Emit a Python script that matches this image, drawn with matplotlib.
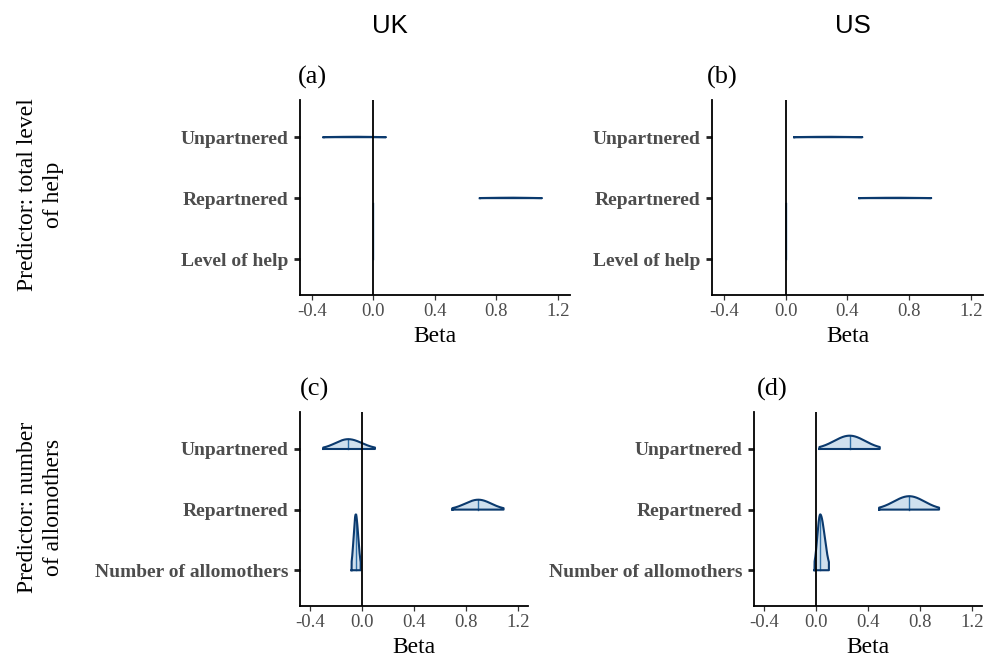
import numpy as np
import matplotlib
matplotlib.use("Agg")
import matplotlib.pyplot as plt

# ---------------- data ----------------
params_help = ["Unpartnered", "Repartnered", "Level of help"]
params_allo = ["Unpartnered", "Repartnered", "Number of allomothers"]

# 95% interval bounds and medians of the posterior for each panel
a_lo  = [-0.324, 0.692, -0.0030]
a_med = [-0.120, 0.894, -0.0015]
a_hi  = [0.082, 1.096, 0.0000]

b_lo  = [0.054, 0.477, -0.0020]
b_med = [0.270, 0.710, -0.0005]
b_hi  = [0.497, 0.944, 0.0010]

c_lo  = [-0.298, 0.696, -0.080]
c_med = [-0.106, 0.896, -0.048]
c_hi  = [0.100, 1.090, -0.010]

d_lo  = [0.025, 0.485, -0.013]
d_med = [0.258, 0.717, 0.031]
d_hi  = [0.490, 0.947, 0.098]

xticks = [-0.4, 0.0, 0.4, 0.8, 1.2]
xticklabels = ["-0.4", "0.0", "0.4", "0.8", "1.2"]
col_titles = ["UK", "US"]
row_titles = ["Predictor: total level\nof help", "Predictor: number\nof allomothers"]
panel_tags = ["(a)", "(b)", "(c)", "(d)"]

# ---------------- style ----------------
SERIF = ["Liberation Serif", "DejaVu Serif"]
SANS = ["Liberation Sans", "DejaVu Sans"]
OUTLINE = "#0b3a6e"
FILL = "#cfe0ee"
MEDIAN = "#2f6fa6"

W, H = 991, 659
fig = plt.figure(figsize=(W / 100, H / 100), dpi=100)


def rect(x0, y0, x1, y1):
    return [x0 / W, 1 - y1 / H, (x1 - x0) / W, (y1 - y0) / H]


panels = [
    (rect(300, 100, 570, 295), params_help, a_lo, a_med, a_hi),
    (rect(712.3, 100, 982.7, 295), params_help, b_lo, b_med, b_hi),
    (rect(300, 412, 528, 606), params_allo, c_lo, c_med, c_hi),
    (rect(754.3, 412, 982, 606), params_allo, d_lo, d_med, d_hi),
]


def split_normal(x, lo, med, hi):
    sl = (med - lo) / 1.96
    sr = (hi - med) / 1.96
    s = np.where(x < med, sl, sr)
    return 2.0 / (np.sqrt(2 * np.pi) * (sl + sr)) * np.exp(-(x - med) ** 2 / (2 * s ** 2))


axes = []
for (pos, names, lo, med, hi) in panels:
    ax = fig.add_axes(pos)
    axes.append(ax)
    levels = [3, 2, 1]
    curves = []
    for l, m, h in zip(lo, med, hi):
        xs = np.linspace(l, h, 400)
        curves.append((xs, split_normal(xs, l, m, h), split_normal(np.array([m]), l, m, h)[0]))
    peak = max(c[1].max() for c in curves)
    scale = 0.92 / peak
    for (xs, ys, ym), lev, m in zip(curves, levels, med):
        yy = lev + ys * scale
        narrow = (xs[-1] - xs[0]) < 0.01
        px = np.concatenate([[xs[0]], xs, [xs[-1]]])
        py = np.concatenate([[lev], yy, [lev]])
        ax.fill(px, py, facecolor=FILL, edgecolor="none", zorder=2)
        ax.plot([m, m], [lev, lev + ym * scale], color=MEDIAN, lw=1.0, zorder=3)
        ax.plot(np.append(px, px[0]), np.append(py, py[0]), color=OUTLINE,
                lw=0.4 if narrow else 1.5, alpha=0.5 if narrow else 1.0,
                solid_joinstyle="round", zorder=4)
    ax.axvline(0, color="black", lw=1.3, zorder=5)
    ax.set_xlim(-0.477, 1.278)
    ax.set_ylim(0.41, 3.61)
    ax.set_yticks(levels)
    ax.set_yticklabels(names, fontfamily=SERIF, fontweight="bold", fontsize=14, color="#4d4d4d")
    ax.set_xticks(xticks)
    ax.set_xticklabels(xticklabels, fontfamily=SERIF, fontsize=13.5, color="#4d4d4d")
    ax.tick_params(axis="y", length=4.3, width=2.0, color="#222222", pad=4)
    ax.tick_params(axis="x", length=3.5, width=0.9, color="#333333", pad=2)
    for s in ["top", "right"]:
        ax.spines[s].set_visible(False)
    for s in ["left", "bottom"]:
        ax.spines[s].set_linewidth(1.3)
        ax.spines[s].set_color("black")
    ax.text(0.5, -42 / 195, "Beta", transform=ax.transAxes, ha="center", va="center",
            fontfamily=SERIF, fontsize=17, color="black")

# column titles
fig.text(390 / W, 1 - 26 / H, col_titles[0], ha="center", va="center", fontfamily=SANS, fontsize=18.5)
fig.text(853 / W, 1 - 26 / H, col_titles[1], ha="center", va="center", fontfamily=SANS, fontsize=18.5)

# panel tags
tag_pos = [(298, 77), (707, 77), (300, 389), (757, 389)]
for t, (x, y) in zip(panel_tags, tag_pos):
    fig.text(x / W, 1 - y / H, t, ha="left", va="center", fontfamily=SERIF, fontsize=19)

# row titles
fig.text(40.5 / W, 1 - 195 / H, row_titles[0], rotation=90, ha="center", va="center",
         multialignment="center", fontfamily=SERIF, fontsize=17, linespacing=1.3)
fig.text(40.5 / W, 1 - 507 / H, row_titles[1], rotation=90, ha="center", va="center",
         multialignment="center", fontfamily=SERIF, fontsize=17, linespacing=1.3)

fig.savefig("out.png", dpi=100)
